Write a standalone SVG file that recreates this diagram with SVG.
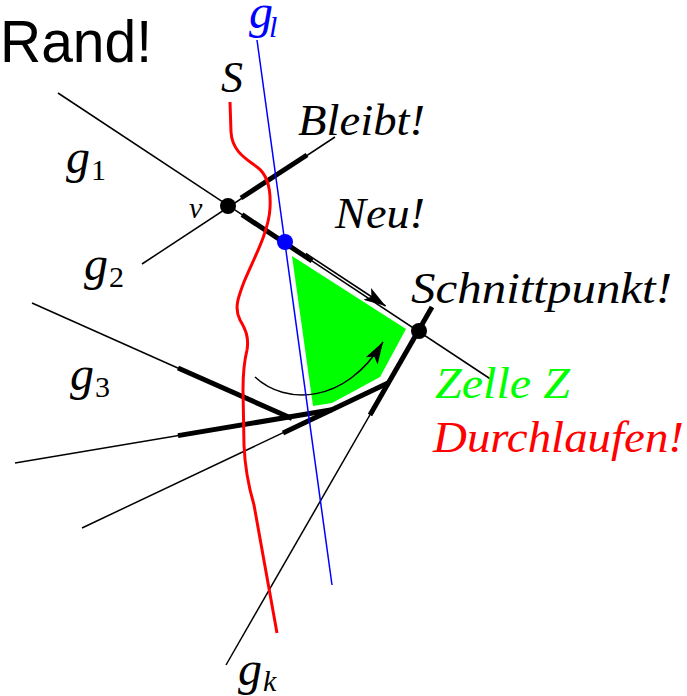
<svg xmlns="http://www.w3.org/2000/svg" width="687" height="696" viewBox="0 0 687 696">
<style>
.thin{stroke:#000;stroke-width:1.5;fill:none;stroke-linecap:butt}
.thick{stroke:#000;stroke-width:5;fill:none;stroke-linecap:butt}
.m{font-family:"Liberation Serif","Times New Roman",serif;font-style:italic;fill:#000}
.g{font-size:48px}
.sub{font-family:"Liberation Serif","Times New Roman",serif;font-size:30px;fill:#000}
</style>
<defs>
<marker id="ah" markerUnits="userSpaceOnUse" markerWidth="24" markerHeight="14" refX="22" refY="7" orient="auto">
<path d="M0,0 L22,7 L0,14 L5,7 z" fill="#000"/>
</marker>
</defs>
<rect width="687" height="696" fill="#fff"/>
<g id="cell">
<polygon points="292,256 406,329 380,377 332,403 313,406" fill="#00ff00"/>
</g>
<g id="connectors">
<line class="thin" x1="58" y1="93" x2="492" y2="380"/>
<line class="thin" x1="142" y1="264" x2="335" y2="137"/>
<line class="thin" x1="32" y1="303" x2="290" y2="418"/>
<line class="thin" x1="15" y1="463" x2="330" y2="410"/>
<line class="thin" x1="82" y1="528" x2="388" y2="383"/>
<line class="thin" x1="226" y1="665" x2="432" y2="307"/>
<line class="thick" x1="241" y1="198" x2="307" y2="155"/>
<line class="thick" x1="242" y1="214.6" x2="312" y2="261"/>
<line class="thick" x1="178" y1="368" x2="292" y2="418.5"/>
<line class="thick" x1="178" y1="435.6" x2="332" y2="409.8"/>
<line class="thick" x1="283" y1="433" x2="388" y2="383"/>
<line class="thick" x1="370" y1="415" x2="432" y2="307"/>
<line class="thin" x1="306" y1="253.5" x2="385.6" y2="306" marker-end="url(#ah)"/>
<path class="thin" d="M255,377 C285,405 345,405 383,342" marker-end="url(#ah)"/>
<path d="M230,102 L231,132 C232,152 248,160 257,167 C268,175 271,190 270,208 C269,232 252,262 244,282 C238,298 234,308 240,320 C246,330 249,338 247,350 C244,362 243,372 243,390 L244,445 C245,470 249,488 254,505 L277,633" fill="none" stroke="#ff0000" stroke-width="3"/>
<line x1="257" y1="40" x2="332" y2="585" stroke="#0000ff" stroke-width="1.5"/>
</g>
<g id="node-v">
<circle cx="228" cy="206" r="8" fill="#000"/>
<text class="m" x="189" y="218" font-size="30">v</text>
</g>
<g id="node-blue">
<circle cx="285" cy="242" r="8" fill="#0000ff"/>
</g>
<g id="node-schnittpunkt">
<circle cx="419" cy="331" r="8" fill="#000"/>
<text class="m" x="411" y="303" font-size="44" textLength="261" lengthAdjust="spacingAndGlyphs">Schnittpunkt!</text>
</g>
<g id="labels">
<text x="0" y="62" font-family="Liberation Sans, Arial, sans-serif" font-size="60" textLength="152" lengthAdjust="spacingAndGlyphs">Rand!</text>
<text class="m g" x="249" y="28" style="fill:#0000ff">g</text>
<text class="m" x="269" y="37" font-size="30" style="fill:#0000ff">l</text>
<text class="m" x="221" y="92" font-size="44">S</text>
<text class="m" x="298" y="135" font-size="44" textLength="127" lengthAdjust="spacingAndGlyphs">Bleibt!</text>
<text class="m" x="335" y="228" font-size="44" textLength="90" lengthAdjust="spacingAndGlyphs">Neu!</text>
<text class="m g" x="66" y="173">g</text>
<text class="sub" x="91" y="180">1</text>
<text class="m g" x="84" y="280">g</text>
<text class="sub" x="109" y="287">2</text>
<text class="m g" x="70" y="390">g</text>
<text class="sub" x="95" y="397">3</text>
<text class="m g" x="238" y="685">g</text>
<text class="m" x="263" y="691" font-size="30">k</text>
<text class="m" x="435" y="398" font-size="44" textLength="135" lengthAdjust="spacingAndGlyphs" style="fill:#00ff00">Zelle Z</text>
<text class="m" x="433" y="452" font-size="44" textLength="251" lengthAdjust="spacingAndGlyphs" style="fill:#ff0000">Durchlaufen!</text>
</g>
</svg>
